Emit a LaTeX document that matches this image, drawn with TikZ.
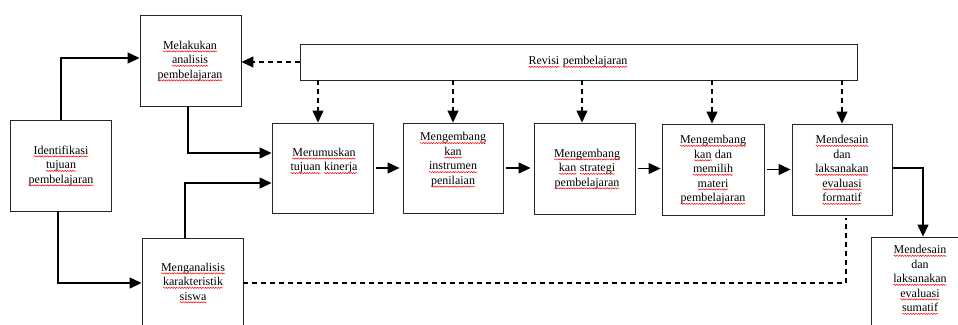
\documentclass[tikz,border=0pt]{standalone}
\usepackage{fontspec}
\setmainfont{Liberation Serif}
\usetikzlibrary{arrows.meta,decorations.pathmorphing}
\newcommand\rw[1]{\tikz[baseline=(w.base)]{\node[inner sep=0pt,outer sep=0pt] (w) {#1};
  \draw[red,line width=0.5pt,decorate,decoration={snake,amplitude=0.6pt,segment length=2.6pt}]
    ([yshift=-2.2pt]w.base west) -- ([yshift=-2.2pt]w.base east);}}
\begin{document}
\begin{tikzpicture}[x=1pt,y=-1pt,
  box/.style={draw=black!85,line width=0.9pt,inner sep=0pt},
  txt/.style={inner sep=0pt,align=center,font=\fontsize{12}{14.5}\selectfont},
  arr/.style={line width=1.3pt,-{Triangle[length=12pt,width=11pt]}},
  darr/.style={line width=1.1pt,dash pattern=on 5pt off 4pt,-{Triangle[length=12pt,width=11pt]}},
  dline/.style={line width=1.1pt,dash pattern=on 5pt off 4pt}]
\useasboundingbox (0,0) rectangle (958,324);
% boxes
\node[box,minimum width=101pt,minimum height=91pt] (ident) at (60.5,165.5) {};
\node[box,minimum width=101pt,minimum height=91pt] (melak) at (190.5,60.5) {};
\node[box,minimum width=101pt,minimum height=90pt] (menga) at (192.5,283) {};
\node[box,minimum width=557pt,minimum height=36pt] (revisi) at (578.5,62) {};
\node[box,minimum width=101pt,minimum height=90pt] (merum) at (322.5,168) {};
\node[box,minimum width=100pt,minimum height=90pt] (instr) at (453,168) {};
\node[box,minimum width=101pt,minimum height=91pt] (strat) at (584.5,168.5) {};
\node[box,minimum width=102pt,minimum height=91pt] (mater) at (713,169.5) {};
\node[box,minimum width=100pt,minimum height=91pt] (forma) at (842,169.5) {};
\node[box,minimum width=98pt,minimum height=100pt] (sumat) at (920,287) {};
% texts
\node[txt] (identT) at (61,166) {\rw{Identifikasi}\\\rw{tujuan}\\\rw{pembelajaran}};
\node[txt] (melakT) at (190,61) {\rw{Melakukan}\\\rw{analisis}\\\rw{pembelajaran}};
\node[txt] (mengaT) at (193,283) {\rw{Menganalisis}\\\rw{karakteristik}\\\rw{siswa}};
\node[txt] (revisiT) at (578,62) {\rw{Revisi} \rw{pembelajaran}};
\node[txt] (merumT) at (324,161) {\rw{Merumuskan}\\\rw{tujuan} \rw{kinerja}};
\node[txt] (instrT) at (453,160) {\rw{Mengembang}\\\rw{kan}\\\rw{instrumen}\\\rw{penilaian}};
\node[txt] (stratT) at (587,169) {\rw{Mengembang}\\\rw{kan} \rw{strategi}\\\rw{pembelajaran}};
\node[txt] (materT) at (713,170) {\rw{Mengembang}\\\rw{kan} dan\\\rw{memilih}\\\rw{materi}\\\rw{pembelajaran}};
\node[txt] (formaT) at (842,170) {\rw{Mendesain}\\dan\\\rw{laksanakan}\\\rw{evaluasi}\\\rw{formatif}};
\node[txt] (sumatT) at (920,280) {\rw{Mendesain}\\dan\\\rw{laksanakan}\\\rw{evaluasi}\\\rw{sumatif}};
% helper coordinates
\coordinate (merumN) at ([xshift=-4.5pt]merum.north);
\coordinate (stratN) at ([xshift=-2.5pt]strat.north);
\coordinate (materN) at ([xshift=-1pt]mater.north);
\coordinate (formaS) at ([xshift=4pt,yshift=-3pt]forma.south);
% solid connectors
\draw[arr] ([xshift=0.5pt]ident.north) |- ([yshift=2.5pt]melak.west);
\draw[arr] ([xshift=-2.5pt]ident.south) |- (menga.west);
\draw[arr] ([xshift=-2.5pt]melak.south) |- ([yshift=15pt]merum.west);
\draw[arr] ([xshift=-7.5pt]menga.north) |- ([yshift=-15pt]merum.west);
\draw[arr,shorten <=3pt,shorten >=3pt] (merum.east) -- (merum.east -| instr.west);
\draw[arr,shorten <=3pt,shorten >=3pt] (instr.east) -- (instr.east -| strat.west);
\draw[arr,shorten <=3pt,shorten >=1pt] (strat.east) -- (strat.east -| mater.west);
\draw[arr,shorten <=3pt,shorten >=1pt] (mater.east) -- (mater.east -| forma.west);
\draw[arr] ([yshift=1.5pt]forma.east) -| ([xshift=3pt]sumat.north);
% dashed connectors
\draw[darr] (revisi.west) -- (revisi.west -| melak.east);
\draw[darr] (revisi.south -| merumN) -- (merumN);
\draw[darr] (revisi.south -| instr.north) -- (instr.north);
\draw[darr] (revisi.south -| stratN) -- (stratN);
\draw[darr] (revisi.south -| materN) -- (materN);
\draw[darr] (revisi.south -| forma.north) -- (forma.north);
\draw[dline] (menga.east) -| (formaS);
\end{tikzpicture}
\end{document}
